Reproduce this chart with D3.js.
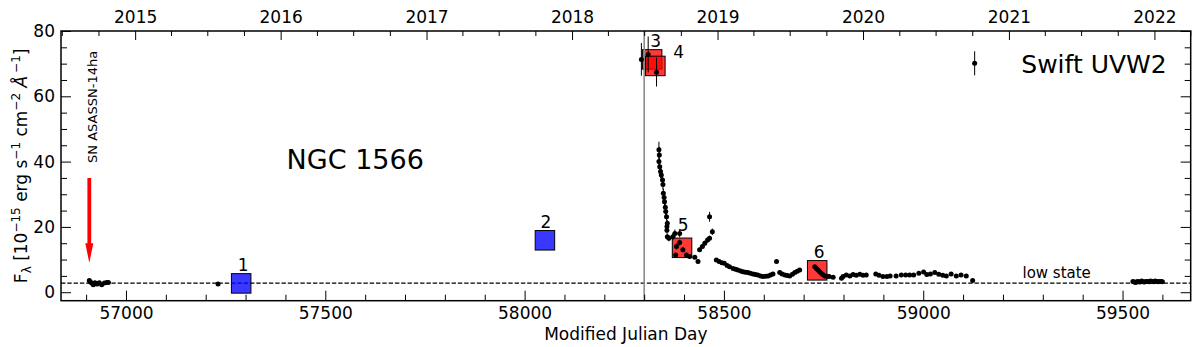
<!DOCTYPE html>
<html><head><meta charset="utf-8">
<script src="https://cdn.jsdelivr.net/npm/d3@7"></script>
<style>
html,body{margin:0;padding:0;background:#fff;}
text{font-family:"DejaVu Sans",sans-serif;fill:#000;}
</style></head>
<body><svg id="c" width="1200" height="347"></svg>
<script>
// ---------------- data ----------------
const obsMjd = [
 56908,56910,56914,56918,56922,56925,56928,56933,56939,56946,56952,56956,
 57231,
 58293,58310,58331,
 58337,58338,58337,58339,58341,58343,58346,58347,58348,58350,58351,58353,58354,58356,58358,58357,58357,58358,58362,
 58372,58377,58389,58381,58389,58397,58379,58406,58414,58427,58435,
 58439,58446,58452,58459,58464,58471,58464,
 58481,58488,58495,58501,58508,58514,58523,58529,58535,58542,58548,58554,58560,58566,58573,58579,58585,58592,58598,58605,58611,58617,58623,58632,58640,58646,58653,58659,58665,58672,58678,58684,58690,
 58728,58732,58736,58740,58744,58748,58753,58758,58764,58774,58795,
 58799,58807,58816,58824,58832,58841,58849,58857,58881,58889,58899,58909,58917,58932,58945,58956,58966,58976,58989,
 59001,59009,59018,59029,59039,59049,59058,59070,59083,59095,59108,59124,
 59129,
 59526,59530,59533,59537,59540,59544,59548,59552,59555,59559,59563,59567,59570,59574,59578,59582,59585,59589,59593,59597,59600
];
const obsFlux = [
 3.6,3.2,2.8,2.3,2.9,2.6,2.5,2.9,2.3,2.8,3.0,3.0,
 2.5,
 71.3,72.8,67.4,
 43.6,42.0,40.0,38.4,37.0,35.9,34.4,33.0,30.3,29.0,27.7,26.0,24.7,23.1,21.1,20.1,19.0,17.0,16.5,
 17.0,18.0,18.0,14.0,15.2,13.0,11.4,11.4,10.9,10.7,9.4,
 13.0,14.0,15.0,16.0,16.5,18.5,23.1,
 9.9,9.4,9.0,8.9,8.2,7.8,7.3,7.0,6.8,6.5,6.3,6.1,6.0,5.8,5.6,5.4,5.3,5.0,4.8,4.9,5.0,5.3,5.6,9.4,6.0,5.6,5.3,5.1,5.0,5.5,6.0,6.4,6.8,
 7.8,7.3,6.8,6.3,5.8,5.4,5.0,4.9,4.8,4.6,4.3,
 4.8,5.3,5.0,5.4,5.2,5.5,5.2,5.3,5.6,5.2,4.8,4.8,5.0,5.0,5.3,5.3,5.3,5.3,5.8,
 6.2,5.4,5.6,6.0,5.5,5.2,5.0,5.6,5.0,5.3,5.0,3.6,
 70.1,
 3.3,3.1,3.0,3.3,3.2,3.1,3.4,3.2,3.1,3.3,3.3,3.2,3.4,3.3,3.2,3.4,3.3,3.2,3.3,3.3,3.2
];
const obsErr = [
 0.3,0.3,0.3,0.3,0.3,0.3,0.3,0.3,0.3,0.3,0.3,0.3,
 0.3,
 5.0,5.5,4.4,
 2.5,2.5,2.2,2.0,2.0,1.8,1.8,1.6,1.5,1.5,1.4,1.3,1.2,1.2,1.1,1.0,1.0,1.0,0.9,
 1.0,1.2,1.2,0.9,0.9,0.8,0.7,0.7,0.6,0.6,0.6,
 0.7,0.7,0.8,0.8,0.8,1.0,1.5,
 0.5,0.5,0.5,0.5,0.4,0.4,0.4,0.4,0.4,0.4,0.4,0.4,0.4,0.4,0.3,0.3,0.3,0.3,0.3,0.3,0.3,0.3,0.3,0.5,0.3,0.3,0.3,0.3,0.3,0.3,0.3,0.3,0.3,
 0.4,0.4,0.4,0.4,0.4,0.3,0.3,0.3,0.3,0.3,0.3,
 0.3,0.3,0.3,0.3,0.3,0.3,0.3,0.3,0.3,0.3,0.3,0.3,0.3,0.5,0.3,0.3,0.3,0.3,0.3,
 0.3,0.3,0.3,0.3,0.3,0.3,0.3,0.3,0.3,0.3,0.3,0.3,
 3.7,
 0.3,0.3,0.3,0.3,0.3,0.3,0.3,0.3,0.3,0.3,0.3,0.3,0.3,0.3,0.3,0.3,0.3,0.3,0.3,0.3,0.3
];
const specLabels = ["1","2","3","4","5","6"];
const specMjd    = [57289, 58051, 58320, 58328, 58395, 58734];
const specFlux   = [2.7, 15.9, 71.3, 69.3, 13.6, 6.7];
const specPhase  = ["before","before","after","after","after","after"];
const lowState = 2.8;
const outburstMjd = 58300;
const snMjd = 56908;
const snArrow = [35, 9];
const yearLabels = [2015,2016,2017,2018,2019,2020,2021,2022];
const mjdTicks = [57000,57500,58000,58500,59000,59500];
const fluxTicks = [0,20,40,60,80];

// ---------------- layout ----------------
const W = 1200, H = 347;
const L = 61, R = 1190.7, T = 31, B = 300.7;
const svg = d3.select("#c");
const x = d3.scaleLinear().domain([56837, 59671]).range([L, R]);
const y = d3.scaleLinear().domain([-2.6, 80]).range([B, T]);
const toMjd = d => d.getTime()/86400000 + 40587;

// clip
svg.append("clipPath").attr("id","clip").append("rect")
  .attr("x",L).attr("y",T).attr("width",R-L).attr("height",B-T);
const plot = svg.append("g").attr("clip-path","url(#clip)");

// low state line
plot.append("line").attr("x1",L).attr("x2",R).attr("y1",y(lowState)).attr("y2",y(lowState))
  .attr("stroke","#000").attr("stroke-width",1.2).attr("stroke-dasharray","4.4,1.9");

// squares
const sq = 19.5;
const specData = specLabels.map((l,i)=>({l, m:specMjd[i], f:specFlux[i], p:specPhase[i]}));
plot.selectAll("rect.sq").data(specData).join("rect").attr("class","sq")
  .attr("x",d=>x(d.m)-sq/2).attr("y",d=>y(d.f)-sq/2).attr("width",sq).attr("height",sq)
  .attr("fill",d=>d.p==="before"?"#0000ff":"#ff0000").attr("fill-opacity",0.78)
  .attr("stroke","#000").attr("stroke-width",1);

// outburst line
plot.append("line").attr("x1",x(outburstMjd)).attr("x2",x(outburstMjd)).attr("y1",T).attr("y2",B)
  .attr("stroke","#8c8c8c").attr("stroke-width",1.6);

// observations
const obs = obsMjd.map((m,i)=>({m, f:obsFlux[i], e:obsErr[i]}));
plot.selectAll("line.err").data(obs).join("line").attr("class","err")
  .attr("x1",d=>x(d.m)).attr("x2",d=>x(d.m)).attr("y1",d=>y(d.f-d.e)).attr("y2",d=>y(d.f+d.e))
  .attr("stroke","#000").attr("stroke-width",1);
plot.selectAll("circle.pt").data(obs).join("circle").attr("class","pt")
  .attr("cx",d=>x(d.m)).attr("cy",d=>y(d.f)).attr("r",2.5).attr("fill","#000");

// square labels
const labOff = {"1":[2,-12],"2":[1,-12],"3":[3.5,-12.8],"4":[18,-7.7],"5":[1.2,-17],"6":[2,-12]};
svg.selectAll("text.sl").data(specData).join("text").attr("class","sl")
  .attr("x",d=>x(d.m)+labOff[d.l][0]).attr("y",d=>y(d.f)+labOff[d.l][1])
  .attr("text-anchor",d=>d.l==="4"?"start":"middle").attr("font-size",17).text(d=>d.l);

// SN arrow
const ax = x(snMjd), ay0 = y(snArrow[0]), ay1 = y(snArrow[1]);
const headL = 19.5, headW = 8, shaftW = 3.8;
svg.append("path")
  .attr("d",`M${ax-shaftW/2},${ay0} L${ax+shaftW/2},${ay0} L${ax+shaftW/2},${ay1-headL} L${ax+headW/2},${ay1-headL} L${ax},${ay1} L${ax-headW/2},${ay1-headL} L${ax-shaftW/2},${ay1-headL} Z`)
  .attr("fill","#ff0000");
svg.append("text").attr("transform",`translate(${ax+7.6},${y(39.6)}) rotate(-90)`)
  .attr("font-size",13).text("SN ASASSN-14ha");

// annotations
svg.append("text").attr("x",x(57403)).attr("y",y(37.6)).attr("font-size",27).text("NGC 1566");
svg.append("text").attr("x",x(59246)).attr("y",y(67)).attr("font-size",25).text("Swift UVW2");
svg.append("text").attr("x",x(59249)).attr("y",y(4.4)).attr("font-size",15).text("low state");

// ---------------- axes ----------------
function styleAxis(g){
  g.select(".domain").remove();
  g.selectAll(".tick line").attr("stroke","#000").attr("stroke-width",1);
  g.selectAll("text").attr("font-size",17).attr("font-family","DejaVu Sans").attr("fill","#000");
}
// bottom
svg.append("g").attr("transform",`translate(0,${B})`)
  .call(d3.axisBottom(x).tickValues(d3.range(56900,59700,100).filter(v=>!mjdTicks.includes(v))).tickSize(-6).tickFormat(""))
  .call(styleAxis);
svg.append("g").attr("transform",`translate(0,${B})`)
  .call(d3.axisBottom(x).tickValues(mjdTicks).tickSize(-10).tickPadding(6.3).tickFormat(d3.format("d")))
  .call(styleAxis);
// top
const years = yearLabels.map(yy=>toMjd(new Date(Date.UTC(yy,0,1))));
const quarters = d3.utcMonth.every(3).range(new Date(Date.UTC(2014,6,1)), new Date(Date.UTC(2022,6,1)))
  .filter(d=>d.getUTCMonth()!==0).map(toMjd).filter(m=>m>=56837&&m<=59671);
svg.append("g").attr("transform",`translate(0,${T})`)
  .call(d3.axisTop(x).tickValues(quarters).tickSize(-5).tickFormat(""))
  .call(styleAxis);
svg.append("g").attr("transform",`translate(0,${T})`)
  .call(d3.axisTop(x).tickValues(years).tickSize(-9).tickPadding(7.7).tickFormat((d,i)=>String(yearLabels[i])))
  .call(styleAxis);
// left
const minorY = d3.range(0,81,5).filter(v=>!fluxTicks.includes(v));
svg.append("g").attr("transform",`translate(${L},0)`)
  .call(d3.axisLeft(y).tickValues(minorY).tickSize(-6).tickFormat(""))
  .call(styleAxis);
svg.append("g").attr("transform",`translate(${L},0)`)
  .call(d3.axisLeft(y).tickValues(fluxTicks).tickSize(-10).tickPadding(6).tickFormat(d3.format("d")))
  .call(styleAxis);
// right
svg.append("g").attr("transform",`translate(${R},0)`)
  .call(d3.axisRight(y).tickValues(minorY).tickSize(-6).tickFormat(""))
  .call(styleAxis);
svg.append("g").attr("transform",`translate(${R},0)`)
  .call(d3.axisRight(y).tickValues(fluxTicks).tickSize(-10).tickFormat(""))
  .call(styleAxis);

// frame
svg.append("rect").attr("x",L).attr("y",T).attr("width",R-L).attr("height",B-T)
  .attr("fill","none").attr("stroke","#000").attr("stroke-width",1.5);

// axis titles
svg.append("text").attr("x",(L+R)/2).attr("y",340).attr("text-anchor","middle")
  .attr("font-size",17).text("Modified Julian Day");
const yt = svg.append("text").attr("transform",`translate(27,${(T+B)/2}) rotate(-90)`)
  .attr("text-anchor","middle").attr("font-size",17);
yt.append("tspan").text("F");
yt.append("tspan").attr("font-size",12).attr("dy",4).text("λ");
yt.append("tspan").attr("dy",-4).text(" [10");
yt.append("tspan").attr("font-size",12).attr("dy",-7).text("−15");
yt.append("tspan").attr("dy",7).text(" erg s");
yt.append("tspan").attr("font-size",12).attr("dy",-7).text("−1");
yt.append("tspan").attr("dy",7).text(" cm");
yt.append("tspan").attr("font-size",12).attr("dy",-7).text("−2");
yt.append("tspan").attr("dy",7).attr("font-style","italic").text(" Å");
yt.append("tspan").attr("font-size",12).attr("dy",-7).attr("dx",3).text("−1");
yt.append("tspan").attr("dy",7).text("]");
</script></body></html>
